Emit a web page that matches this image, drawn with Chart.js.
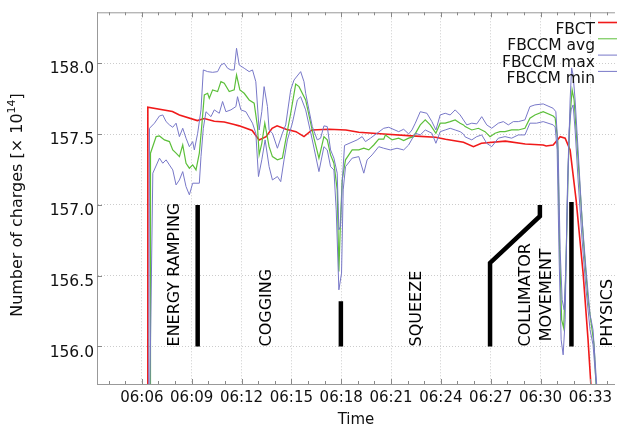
<!DOCTYPE html>
<html>
<head>
<meta charset="utf-8">
<script src="https://cdn.jsdelivr.net/npm/chart.js@4.4.0/dist/chart.umd.min.js"></script>
<style>
  html, body { margin: 0; padding: 0; background: #fff; }
  #wrap { width: 617px; height: 427px; }
</style>
</head>
<body>
<div id="wrap"><canvas id="chargeChart" width="617" height="427"></canvas></div>
<script>
// time is in minutes after 06:00, values in units of 10^14 charges
const xTickValues = [6, 9, 12, 15, 18, 21, 24, 27, 30, 33];
const xTickLabels = ['06:06', '06:09', '06:12', '06:15', '06:18', '06:21', '06:24', '06:27', '06:30', '06:33'];
const yTickValues = [156.0, 156.5, 157.0, 157.5, 158.0];

const seriesNames = ['FBCT', 'FBCCM avg', 'FBCCM max', 'FBCCM min'];

const fbctTime = [
  6.35, 6.36, 7.84, 8.26, 9.34, 9.76, 10.36, 10.96, 11.56, 11.86,
  12.64, 13.06, 13.48, 13.84, 14.14, 14.68, 15.28, 15.76, 16.24, 17.26,
  18.28, 19.06, 20.56, 22.24, 23.68, 24.28, 25.36, 25.96, 26.44, 27.88,
  29.08, 30.16, 30.34, 30.76, 31.18, 31.48, 31.78, 32.14, 32.56, 32.86,
  33.04, 33.4];
const fbctValue = [
  155.0, 157.69, 157.66, 157.635, 157.595, 157.61, 157.59, 157.585, 157.568, 157.558,
  157.525, 157.459, 157.482, 157.541, 157.558, 157.534, 157.517, 157.482, 157.529, 157.534,
  157.529, 157.513, 157.50, 157.487, 157.478, 157.464, 157.442, 157.411, 157.435, 157.45,
  157.43, 157.423, 157.416, 157.423, 157.482, 157.471, 157.388, 157.035, 156.52, 156.047,
  155.71, 155.3];

const avgTime = [
  6.51, 6.52, 6.86, 7.06, 7.36, 7.66, 7.86, 8.06, 8.26, 8.46,
  8.66, 8.86, 9.06, 9.26, 9.46, 9.62, 9.76, 9.96, 10.06, 10.26,
  10.56, 10.76, 10.96, 11.26, 11.56, 11.70, 11.90, 12.16, 12.46, 12.76,
  12.96, 13.06, 13.22, 13.40, 13.66, 13.86, 14.16, 14.46, 14.66, 14.96,
  15.26, 15.46, 15.86, 16.36, 16.66, 16.96, 17.16, 17.36, 17.56, 17.76,
  17.86, 17.96, 18.06, 18.26, 18.66, 19.06, 19.36, 19.66, 19.96, 20.26,
  20.56, 20.66, 21.06, 21.46, 21.76, 22.06, 22.36, 22.76, 23.06, 23.36,
  23.70, 23.96, 24.26, 24.56, 24.86, 25.16, 25.36, 25.46, 25.86, 26.26,
  26.66, 26.96, 27.26, 27.56, 27.86, 28.26, 28.66, 29.06, 29.36, 29.66,
  30.16, 30.76, 30.88, 31.03, 31.15, 31.27, 31.39, 31.51, 31.66, 31.78,
  31.90, 32.02, 32.14, 32.38, 32.62, 32.86, 33.10, 33.22, 33.34, 33.50];
const avgValue = [
  155.0, 157.365, 157.482, 157.487, 157.459, 157.447, 157.388, 157.365, 157.341, 157.423,
  157.294, 157.259, 157.282, 157.247, 157.365, 157.577, 157.776, 157.788, 157.753, 157.812,
  157.80, 157.870, 157.859, 157.80, 157.812, 157.917, 157.812, 157.788, 157.741, 157.718,
  157.553, 157.353, 157.435, 157.577, 157.411, 157.341, 157.318, 157.33, 157.459, 157.647,
  157.853, 157.835, 157.741, 157.471, 157.33, 157.482, 157.459, 157.353, 157.294, 157.106,
  156.529, 156.894, 157.176, 157.318, 157.388, 157.388, 157.40, 157.388, 157.423, 157.465,
  157.464, 157.494, 157.459, 157.471, 157.454, 157.471, 157.482, 157.565, 157.60, 157.565,
  157.506, 157.577, 157.577, 157.588, 157.60, 157.577, 157.565, 157.553, 157.529, 157.541,
  157.517, 157.482, 157.506, 157.517, 157.517, 157.529, 157.529, 157.541, 157.612, 157.635,
  157.658, 157.628, 157.614, 157.459, 156.683, 156.188, 156.132, 156.471, 157.247, 157.635,
  157.812, 157.741, 157.529, 157.106, 156.683, 156.33, 156.118, 156.012, 155.729, 155.3];

const maxTime = [
  6.40, 6.46, 6.76, 7.06, 7.26, 7.46, 7.66, 7.86, 8.06, 8.26,
  8.46, 8.66, 8.86, 9.06, 9.16, 9.36, 9.56, 9.70, 9.96, 10.26,
  10.56, 10.76, 10.96, 11.16, 11.36, 11.56, 11.70, 11.86, 12.16, 12.46,
  12.66, 12.86, 13.06, 13.22, 13.36, 13.56, 13.66, 13.86, 14.16, 14.46,
  14.66, 14.96, 15.16, 15.56, 15.76, 15.86, 16.26, 16.56, 16.76, 16.96,
  17.16, 17.36, 17.56, 17.76, 17.86, 17.96, 18.06, 18.20, 18.96, 19.26,
  19.46, 19.76, 20.16, 20.56, 20.86, 21.46, 21.76, 22.06, 22.26, 22.46,
  22.76, 23.16, 23.46, 23.70, 23.96, 24.26, 24.56, 24.86, 25.16, 25.36,
  25.56, 25.86, 26.16, 26.46, 26.76, 27.06, 27.46, 27.76, 28.06, 28.36,
  28.66, 29.06, 29.36, 29.66, 30.16, 30.76, 30.92, 31.06, 31.18, 31.30,
  31.42, 31.54, 31.66, 31.78, 31.87, 31.96, 32.08, 32.26, 32.50, 32.74,
  32.98, 33.16, 33.28, 33.40, 33.60];
const maxValue = [
  155.0, 157.541, 157.577, 157.628, 157.635, 157.588, 157.565, 157.548, 157.577, 157.482,
  157.541, 157.471, 157.411, 157.447, 157.388, 157.506, 157.671, 157.953, 157.941, 157.936,
  157.941, 157.988, 158.0, 157.965, 157.953, 157.953, 158.106, 157.988, 157.965, 157.941,
  157.953, 157.870, 157.529, 157.658, 157.835, 157.694, 157.529, 157.506, 157.40, 157.506,
  157.565, 157.812, 157.882, 157.941, 157.87, 157.788, 157.553, 157.459, 157.471, 157.558,
  157.553, 157.388, 157.33, 157.224, 156.824, 156.847, 157.153, 157.42, 157.459, 157.482,
  157.447, 157.471, 157.506, 157.541, 157.548, 157.517, 157.534, 157.501, 157.529, 157.577,
  157.658, 157.647, 157.588, 157.529, 157.635, 157.647, 157.635, 157.671, 157.635, 157.60,
  157.565, 157.577, 157.572, 157.623, 157.565, 157.541, 157.577, 157.588, 157.565, 157.588,
  157.588, 157.60, 157.694, 157.706, 157.713, 157.682, 157.658, 157.388, 156.683, 156.33,
  156.259, 156.612, 157.247, 157.741, 157.967, 157.917, 157.741, 157.388, 156.894, 156.541,
  156.224, 156.118, 155.906, 155.694, 155.3];

const minTime = [
  6.40, 6.66, 7.06, 7.26, 7.46, 7.66, 7.86, 8.06, 8.26, 8.46,
  8.66, 8.86, 9.06, 9.26, 9.46, 9.56, 9.70, 9.86, 10.16, 10.36,
  10.66, 10.86, 11.06, 11.36, 11.66, 11.76, 11.96, 12.26, 12.66, 12.86,
  13.02, 13.22, 13.42, 13.66, 13.86, 14.16, 14.36, 14.56, 14.76, 15.06,
  15.36, 15.56, 15.86, 16.26, 16.66, 16.96, 17.16, 17.36, 17.56, 17.70,
  17.86, 18.02, 18.12, 18.26, 18.66, 19.06, 19.36, 19.56, 19.86, 20.26,
  20.56, 20.96, 21.36, 21.76, 22.06, 22.46, 22.76, 23.06, 23.46, 23.70,
  23.96, 24.26, 24.56, 24.86, 25.16, 25.36, 25.46, 25.86, 26.16, 26.46,
  26.76, 27.06, 27.46, 27.86, 28.26, 28.66, 29.06, 29.36, 29.76, 30.16,
  30.76, 30.88, 31.00, 31.12, 31.24, 31.36, 31.48, 31.60, 31.72, 31.84,
  31.96, 32.08, 32.26, 32.50, 32.74, 32.98, 33.16, 33.28, 33.40, 33.60];
const minValue = [
  155.0, 157.224, 157.33, 157.294, 157.318, 157.282, 157.247, 157.141, 157.176, 157.235,
  157.129, 157.071, 157.153, 157.153, 157.153, 157.341, 157.541, 157.658, 157.623, 157.671,
  157.647, 157.73, 157.658, 157.671, 157.694, 157.764, 157.671, 157.658, 157.577, 157.506,
  157.20, 157.318, 157.459, 157.27, 157.176, 157.20, 157.164, 157.318, 157.459, 157.577,
  157.741, 157.764, 157.671, 157.459, 157.235, 157.411, 157.388, 157.27, 157.247, 156.965,
  156.40, 156.518, 157.106, 157.27, 157.33, 157.341, 157.224, 157.318, 157.353, 157.411,
  157.40, 157.388, 157.40, 157.388, 157.423, 157.506, 157.494, 157.529, 157.506, 157.435,
  157.517, 157.529, 157.541, 157.529, 157.517, 157.50, 157.48, 157.459, 157.482, 157.494,
  157.435, 157.411, 157.471, 157.482, 157.471, 157.494, 157.494, 157.577, 157.577, 157.588,
  157.565, 157.55, 157.388, 156.612, 156.047, 155.941, 156.188, 157.035, 157.529, 157.671,
  157.706, 157.529, 157.176, 156.753, 156.40, 156.118, 156.012, 155.835, 155.659, 155.3];

// black phase markers
const rampTime = [9.36, 9.36];
const rampValue = [157.0, 156.0];
const squeezeTime = [17.98, 17.98];
const squeezeValue = [156.32, 156.0];
const collimatorTime = [26.96, 26.96, 29.96, 29.96];
const collimatorValue = [156.0, 156.59, 156.92, 157.0];
const physicsTime = [31.86, 31.86];
const physicsValue = [157.02, 156.0];

// phase labels (multi-line labels are centred on their value)
const phaseLabels = ['ENERGY RAMPING', 'COGGING', 'SQUEEZE', ['COLLIMATOR', 'MOVEMENT'], 'PHYSICS'];
const phaseTime = [7.86, 13.40, 22.46, 29.63, 33.94];
const phaseValue = [156.0, 156.0, 156.0, 156.365, 156.0];

const toPoints = (t, v) => t.map((x, i) => ({ x: x, y: v[i] }));

const FONT = 'DejaVu Sans, Verdana, sans-serif';
const colors = ['#f01a1a', '#5cbf3a', '#7878c8', '#7878c8'];

const markerSet = (t, v) => ({
  data: toPoints(t, v),
  borderColor: '#000',
  borderWidth: 4.5,
  borderCapStyle: 'butt',
  borderJoinStyle: 'miter',
  pointRadius: 0
});

const decorations = {
  id: 'decorations',
  afterDatasetsDraw(chart) {
    const { ctx, scales: { x, y } } = chart;
    ctx.save();
    ctx.fillStyle = '#000';
    ctx.font = '16px ' + FONT;
    ctx.textBaseline = 'alphabetic';
    phaseLabels.forEach((label, i) => {
      const px = x.getPixelForValue(phaseTime[i]);
      const py = y.getPixelForValue(phaseValue[i]);
      ctx.save();
      ctx.translate(px, py);
      ctx.rotate(-Math.PI / 2);
      // baseline offset so the capitals sit centred on px
      if (Array.isArray(label)) {
        ctx.textAlign = 'center';
        label.forEach((line, j) => {
          ctx.fillText(line, 0, (j - (label.length - 1) / 2) * 21 + 5.8);
        });
      } else {
        ctx.textAlign = 'left';
        ctx.fillText(label, 0, 5.8);
      }
      ctx.restore();
    });
    ctx.restore();
  },
  afterDraw(chart) {
    const { ctx, chartArea: area, scales: { x, y } } = chart;
    ctx.save();
    // top frame line
    ctx.strokeStyle = '#999';
    ctx.lineWidth = 1;
    ctx.beginPath();
    ctx.moveTo(area.left, area.top + 0.5);
    ctx.lineTo(area.right, area.top + 0.5);
    ctx.stroke();
    // inward ticks, one per minute on x
    ctx.strokeStyle = '#888';
    for (let m = Math.ceil(x.min); m <= x.max; m++) {
      const px = Math.round(x.getPixelForValue(m)) + 0.5;
      const len = m % 3 === 0 ? 5 : 3;
      ctx.beginPath();
      ctx.moveTo(px, area.bottom);
      ctx.lineTo(px, area.bottom - len);
      ctx.moveTo(px, area.top);
      ctx.lineTo(px, area.top + len);
      ctx.stroke();
    }
    yTickValues.forEach(v => {
      const py = Math.round(y.getPixelForValue(v)) + 0.5;
      ctx.beginPath();
      ctx.moveTo(area.left, py);
      ctx.lineTo(area.left + 5, py);
      ctx.stroke();
    });

    // axis titles
    ctx.fillStyle = '#111';
    ctx.font = '15px ' + FONT;
    ctx.textAlign = 'center';
    ctx.textBaseline = 'middle';
    ctx.fillText('Time', (area.left + area.right) / 2, 420);

    ctx.save();
    ctx.translate(18, 205);
    ctx.rotate(-Math.PI / 2);
    const main = 'Number of charges [\u00d7 10';
    const sup = '14';
    const tail = ']';
    ctx.font = '16px ' + FONT;
    const w1 = ctx.measureText(main).width;
    const w3 = ctx.measureText(tail).width;
    ctx.font = '11px ' + FONT;
    const w2 = ctx.measureText(sup).width;
    let sx = -(w1 + w2 + w3) / 2;
    ctx.textAlign = 'left';
    ctx.font = '16px ' + FONT;
    ctx.fillText(main, sx, 0);
    sx += w1;
    ctx.font = '11px ' + FONT;
    ctx.fillText(sup, sx, -6);
    sx += w2;
    ctx.font = '16px ' + FONT;
    ctx.fillText(tail, sx, 0);
    ctx.restore();

    // legend, top right
    ctx.font = '15.5px ' + FONT;
    ctx.textAlign = 'right';
    ctx.textBaseline = 'alphabetic';
    seriesNames.forEach((name, i) => {
      const base = 34 + i * 16.3;
      ctx.fillStyle = '#111';
      ctx.fillText(name, 595, base);
      ctx.strokeStyle = colors[i];
      ctx.lineWidth = i === 0 ? 1.6 : 1;
      ctx.beginPath();
      ctx.moveTo(598, base - 11.5);
      ctx.lineTo(617, base - 11.5);
      ctx.stroke();
    });
    ctx.restore();
  }
};

const dataSeries = [
  { label: seriesNames[2], data: toPoints(maxTime, maxValue), borderColor: colors[2], borderWidth: 1 },
  { label: seriesNames[3], data: toPoints(minTime, minValue), borderColor: colors[3], borderWidth: 1 },
  { label: seriesNames[1], data: toPoints(avgTime, avgValue), borderColor: colors[1], borderWidth: 1.2 },
  { label: seriesNames[0], data: toPoints(fbctTime, fbctValue), borderColor: colors[0], borderWidth: 1.6 }
].map(d => Object.assign(d, { pointRadius: 0, clip: 0 }));

new Chart(document.getElementById('chargeChart'), {
  type: 'line',
  data: {
    datasets: dataSeries.concat([
      markerSet(rampTime, rampValue),
      markerSet(squeezeTime, squeezeValue),
      markerSet(collimatorTime, collimatorValue),
      markerSet(physicsTime, physicsValue)
    ])
  },
  options: {
    responsive: false,
    animation: false,
    devicePixelRatio: 1,
    layout: { padding: { top: 12, left: 0, right: 0, bottom: 0 } },
    elements: { line: { tension: 0 }, point: { radius: 0 } },
    plugins: { legend: { display: false }, tooltip: { enabled: false } },
    scales: {
      x: {
        type: 'linear',
        min: 3.3,
        max: 34.48,
        afterFit(s) { s.height = 43; },
        afterBuildTicks(s) { s.ticks = xTickValues.map(v => ({ value: v })); },
        ticks: {
          callback: (v, i) => xTickLabels[i],
          font: { family: FONT, size: 15 },
          color: '#111',
          padding: 5,
          maxRotation: 0,
          autoSkip: false
        },
        grid: { color: '#cccccc', drawTicks: false },
        border: { color: '#999', dash: [1, 2] }
      },
      y: {
        min: 155.735,
        max: 158.36,
        afterFit(s) { s.width = 97; },
        afterBuildTicks(s) { s.ticks = yTickValues.map(v => ({ value: v })); },
        ticks: {
          callback: v => v.toFixed(1),
          font: { family: FONT, size: 15.5 },
          color: '#111',
          padding: 3,
          labelOffset: 6
        },
        grid: { color: '#cccccc', drawTicks: false },
        border: { color: '#999', dash: [1, 2] }
      }
    }
  },
  plugins: [decorations]
});
</script>
</body>
</html>
